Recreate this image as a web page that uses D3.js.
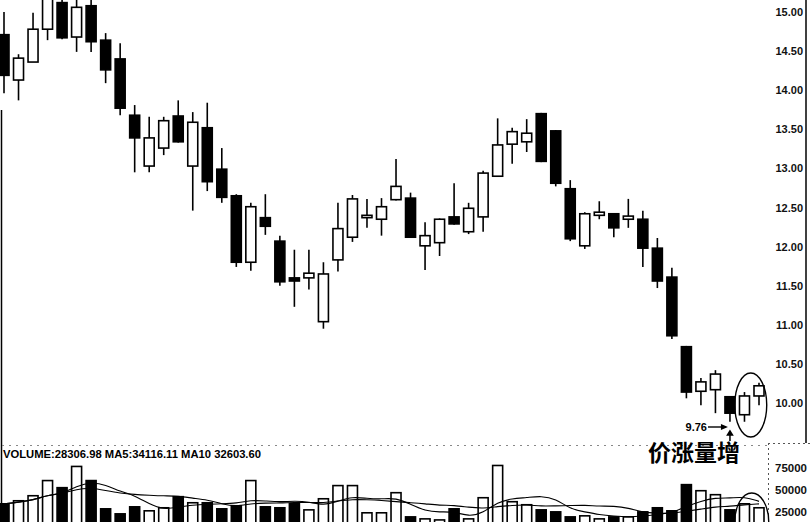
<!DOCTYPE html>
<html>
<head>
<meta charset="utf-8">
<script src="https://cdn.jsdelivr.net/npm/d3@7"></script>
<style>
  body { margin: 0; background: #fff; }
  svg { display: block; }
</style>
</head>
<body>
<div class="wrapper"></div>
<script>
const width = 810;
const height = 522;

// candle data (53 sessions)
const opens = [14.71, 14.13, 14.36, 14.78, 15.12, 14.68, 15.08, 14.64, 14.40, 13.68,
  13.03, 13.26, 13.67, 13.03, 13.52, 12.99, 12.65, 11.80, 12.37, 12.07,
  11.60, 11.60, 11.04, 11.83, 12.12, 12.37, 12.35, 12.60, 12.62, 12.01,
  12.05, 12.38, 12.19, 12.38, 12.90, 13.31, 13.34, 13.70, 13.48, 12.74,
  12.01, 12.40, 12.42, 12.35, 12.35, 11.98, 11.61, 10.72, 10.15, 10.17,
  10.08, 9.85, 10.09];
const closes = [14.19, 14.41, 14.78, 15.22, 14.67, 15.06, 14.62, 14.26, 13.77, 13.39,
  13.39, 13.61, 13.34, 13.59, 12.83, 12.63, 11.80, 12.51, 12.26, 11.55,
  11.56, 11.66, 11.65, 12.23, 12.61, 12.40, 12.51, 12.77, 12.12, 12.14,
  12.35, 12.29, 12.49, 12.94, 13.30, 13.47, 13.45, 13.09, 12.81, 12.10,
  12.42, 12.44, 12.24, 12.39, 11.98, 11.56, 10.86, 10.14, 10.27, 10.37,
  9.87, 10.09, 10.22];
const highs = [15.00, 14.46, 14.99, 15.35, 15.25, 15.20, 15.20, 14.73, 14.60, 13.81,
  13.66, 13.66, 13.87, 13.72, 13.84, 13.26, 12.67, 12.56, 12.67, 12.14,
  11.96, 11.96, 11.80, 12.56, 12.66, 12.61, 12.62, 13.12, 12.69, 12.31,
  12.36, 12.81, 12.56, 12.97, 13.64, 13.52, 13.63, 13.71, 13.49, 12.85,
  12.44, 12.58, 12.43, 12.61, 12.46, 12.11, 11.73, 10.73, 10.32, 10.42,
  10.09, 10.14, 10.26];
const lows = [13.96, 13.87, 14.36, 14.64, 14.65, 14.49, 14.49, 14.09, 13.68, 12.95,
  12.95, 13.17, 13.33, 12.46, 12.71, 12.56, 11.74, 11.69, 12.15, 11.50,
  11.23, 11.45, 10.95, 11.68, 12.06, 12.24, 12.14, 12.59, 12.11, 11.70,
  11.88, 12.28, 12.16, 12.19, 12.89, 13.06, 13.21, 13.08, 12.77, 12.07,
  11.97, 12.35, 12.12, 12.24, 11.74, 11.47, 10.82, 10.06, 9.97, 9.87,
  9.76, 9.76, 9.97];
const volumes = [33700, 37200, 43000, 60500, 52300, 76800, 60500, 27900, 22100, 30200,
  25600, 29100, 41900, 34900, 34900, 27900, 31400, 60500, 30200, 29100,
  33700, 26700, 39500, 54700, 54700, 23300, 23300, 46500, 18600, 16300,
  15100, 27900, 16300, 40700, 77900, 36100, 32600, 26700, 24400, 18600,
  19800, 16300, 18600, 18600, 24400, 29100, 25600, 55800, 48800, 44200,
  26700, 33700, 29100];

const priceTicks = [10, 10.5, 11, 11.5, 12, 12.5, 13, 13.5, 14, 14.5, 15];
const volumeTicks = [25000, 50000, 75000];
const volumeLabel = "VOLUME:28306.98  MA5:34116.11  MA10 32603.60";
const lowLabel = "9.76";
const note = "价涨量增";

const candles = opens.map((o, i) => ({
  i, open: o, close: closes[i], high: highs[i], low: lows[i], volume: volumes[i],
  up: closes[i] >= o
}));

// moving averages of the volume (partial window at the start)
const movingAverage = (n) => volumes.map((v, i) => {
  const win = volumes.slice(Math.max(0, i - n + 1), i + 1);
  return d3.mean(win);
});
const ma5 = movingAverage(5);
const ma10 = movingAverage(10);

const svg = d3.select(".wrapper")
  .append("svg")
  .attr("width", width)
  .attr("height", height)
  .attr("viewBox", [0, 0, width, height])
  .style("font-family", "Arial, 'Liberation Sans', sans-serif");

const x = d3.scaleLinear().domain([0, candles.length - 1]).range([4, 759]);
const y = d3.scaleLinear().domain([10, 15]).range([403, 12]);
const yVol = d3.scaleLinear().domain([0, 75000]).range([533, 468]);
const bodyW = 10;

svg.append("defs").append("clipPath").attr("id", "volClip")
  .append("rect").attr("x", 0).attr("y", 446).attr("width", 768).attr("height", 80);

// frame lines
svg.append("line").attr("x1", 1.5).attr("x2", 1.5).attr("y1", 110).attr("y2", height)
  .attr("stroke", "#000").attr("stroke-width", 1.5);
svg.append("line").attr("x1", 806).attr("x2", 806).attr("y1", 0).attr("y2", 443)
  .attr("stroke", "#000").attr("stroke-width", 1.5);
svg.append("line").attr("x1", 2).attr("x2", 768).attr("y1", 445.5).attr("y2", 445.5)
  .attr("stroke", "#888").attr("stroke-width", 1).attr("stroke-dasharray", "2,5");
svg.append("line").attr("x1", 768.5).attr("x2", 768.5).attr("y1", 443).attr("y2", height)
  .attr("stroke", "#555").attr("stroke-width", 1).attr("stroke-dasharray", "2,3");
svg.append("line").attr("x1", 768).attr("x2", 810).attr("y1", 443.5).attr("y2", 443.5)
  .attr("stroke", "#555").attr("stroke-width", 1).attr("stroke-dasharray", "2,3");

// price axis
svg.append("g")
  .attr("transform", "translate(804,0)")
  .call(d3.axisLeft(y).tickValues(priceTicks).tickSize(0).tickPadding(1)
    .tickFormat(d3.format(".2f")))
  .call(g => g.select(".domain").remove())
  .call(g => g.selectAll("text")
    .attr("font-size", 11).attr("font-weight", "bold").attr("fill", "#111"));

// volume axis
svg.append("g")
  .attr("transform", "translate(775,0)")
  .call(d3.axisRight(yVol).tickValues(volumeTicks).tickSize(0).tickPadding(0)
    .tickFormat(d3.format("d")))
  .call(g => g.select(".domain").remove())
  .call(g => g.selectAll("text")
    .attr("font-size", 11.5).attr("font-weight", "bold").attr("fill", "#111"));

// candles
const candle = svg.append("g").selectAll("g")
  .data(candles)
  .join("g");

candle.append("line")
  .attr("x1", d => x(d.i)).attr("x2", d => x(d.i))
  .attr("y1", d => y(d.high)).attr("y2", d => y(d.low))
  .attr("stroke", "#000").attr("stroke-width", 1.6);

candle.append("rect")
  .attr("x", d => x(d.i) - bodyW / 2)
  .attr("y", d => y(Math.max(d.open, d.close)))
  .attr("width", bodyW)
  .attr("height", d => Math.max(2, Math.abs(y(d.open) - y(d.close))))
  .attr("fill", d => d.up ? "#fff" : "#000")
  .attr("stroke", "#000").attr("stroke-width", 1.6);

// volume bars
const vol = svg.append("g").attr("clip-path", "url(#volClip)");
vol.selectAll("rect")
  .data(candles)
  .join("rect")
  .attr("x", d => x(d.i) - bodyW / 2)
  .attr("y", d => yVol(d.volume))
  .attr("width", bodyW)
  .attr("height", d => yVol(0) - yVol(d.volume))
  .attr("fill", d => d.up ? "#fff" : "#000")
  .attr("stroke", "#000").attr("stroke-width", 1.6);

const maLine = d3.line().x((d, i) => x(i)).y(d => yVol(d)).curve(d3.curveBasis);
vol.append("path").attr("d", maLine(ma5)).attr("fill", "none")
  .attr("stroke", "#000").attr("stroke-width", 1.1);
vol.append("path").attr("d", maLine(ma10)).attr("fill", "none")
  .attr("stroke", "#000").attr("stroke-width", 1.1);

svg.append("text")
  .attr("x", 3).attr("y", 458)
  .attr("font-size", 11).attr("font-weight", "bold")
  .attr("textLength", 258).attr("lengthAdjust", "spacingAndGlyphs")
  .text(volumeLabel);

// annotations
const last = candles.length - 1;
const lowCandle = candles[last - 2];
svg.append("ellipse")
  .attr("cx", (x(last - 1) + x(last)) / 2 - 1).attr("cy", 405)
  .attr("rx", 16).attr("ry", 32)
  .attr("fill", "none").attr("stroke", "#000").attr("stroke-width", 1.4);
svg.append("ellipse")
  .attr("cx", (x(last - 1) + x(last)) / 2).attr("cy", 522)
  .attr("rx", 17).attr("ry", 29)
  .attr("fill", "none").attr("stroke", "#000").attr("stroke-width", 1.4);

svg.append("text")
  .attr("x", 707).attr("y", 431)
  .attr("text-anchor", "end")
  .attr("font-size", 11).attr("font-weight", "bold")
  .text(lowLabel);
svg.append("line")
  .attr("x1", 708).attr("x2", x(lowCandle.i) - 4)
  .attr("y1", 427).attr("y2", 427)
  .attr("stroke", "#000").attr("stroke-width", 1.4);
svg.append("path")
  .attr("d", `M${x(lowCandle.i) - 2},427 l-7,-3 l0,6 Z`)
  .attr("fill", "#000");
svg.append("path")
  .attr("d", `M${x(lowCandle.i)},431 l-2.5,4 h5 Z M${x(lowCandle.i)},434 v7`)
  .attr("fill", "#000").attr("stroke", "#000").attr("stroke-width", 1.5);

svg.append("text")
  .attr("x", 648).attr("y", 461)
  .attr("font-family", "'Noto Sans CJK SC', sans-serif")
  .attr("font-size", 23).attr("font-weight", "bold")
  .text(note);
</script>
</body>
</html>
